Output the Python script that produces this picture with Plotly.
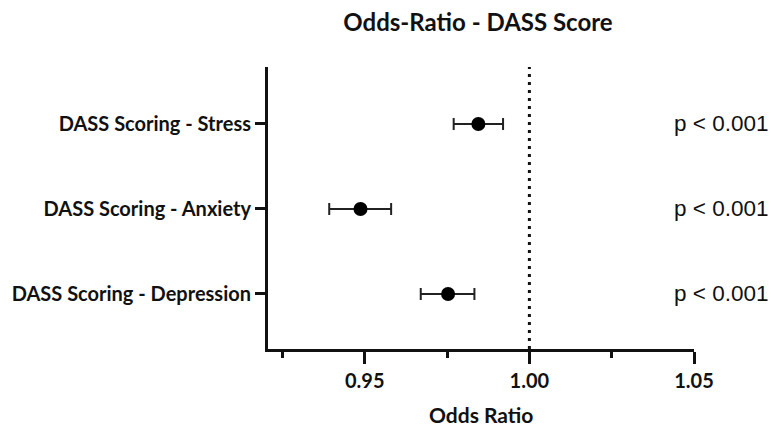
import plotly.graph_objects as go

categories = ["DASS Scoring - Depression", "DASS Scoring - Anxiety", "DASS Scoring - Stress"]
odds_ratio = [0.9753, 0.9487, 0.9845]
ci_low = [0.9670, 0.9392, 0.9770]
ci_high = [0.9833, 0.9580, 0.9920]
p_labels = ["p < 0.001", "p < 0.001", "p < 0.001"]
x_tick_vals = [0.95, 1.00, 1.05]
x_tick_text = ["0.95", "1.00", "1.05"]
reference_line = 1.00

err_plus = [h - v for h, v in zip(ci_high, odds_ratio)]
err_minus = [v - l for v, l in zip(odds_ratio, ci_low)]

BOLD = dict(family="Lato", weight="bold", color="#111111")

W, H = 771, 426

fig = go.Figure()
fig.add_trace(go.Scatter(
    x=odds_ratio, y=categories, mode="markers",
    marker=dict(size=14, color="black"),
    error_x=dict(type="data", symmetric=False, array=err_plus, arrayminus=err_minus,
                 color="#222222", thickness=2, width=6),
    showlegend=False, cliponaxis=False,
))

fig.add_shape(type="line", xref="x", yref="paper", x0=reference_line, x1=reference_line,
              y0=0, y1=1, line=dict(color="#111111", width=3, dash="3px,5px"))

for cat, p in zip(categories, p_labels):
    fig.add_annotation(x=(672 - 263) / 431, xref="paper", y=cat, yref="y", text=p,
                       showarrow=False, xanchor="left", yanchor="middle",
                       font=dict(family="Liberation Sans", size=22.5, color="#111111"))

fig.add_annotation(x=0.5, xref="paper", y=-0.234, yref="paper", text="Odds Ratio",
                   showarrow=False, xanchor="center", yanchor="middle",
                   font=dict(size=21, **BOLD))

fig.update_layout(
    width=W, height=H,
    margin=dict(l=263, r=77, t=67, b=77),
    paper_bgcolor="white", plot_bgcolor="white",
    title=dict(text="Odds-Ratio - DASS Score", x=478 / W, xanchor="center",
               y=1 - 23 / H, yanchor="middle", xref="container", yref="container",
               font=dict(size=24, **BOLD)),
    xaxis=dict(range=[0.9206, 1.05], tickvals=x_tick_vals, ticktext=x_tick_text,
               showgrid=False, zeroline=False, showline=True, linecolor="#111111", linewidth=3,
               ticks="outside", ticklen=12, tickwidth=3, tickcolor="#111111",
               tickfont=dict(size=20, **BOLD),
               minor=dict(tickvals=[0.925, 0.975, 1.025], ticks="outside", ticklen=6,
                          tickwidth=3, tickcolor="#111111", showgrid=False)),
    yaxis=dict(type="category", categoryorder="array", categoryarray=categories,
               range=[-0.647, 2.67], showgrid=False, zeroline=False,
               showline=True, linecolor="#111111", linewidth=3,
               ticks="outside", ticklen=10, tickwidth=2.5, tickcolor="#111111",
               tickfont=dict(size=20, **BOLD)),
)

fig.write_html("out.html", config={"displayModeBar": False},
               post_script="document.body.style.margin='0';document.body.style.overflow='hidden';")
